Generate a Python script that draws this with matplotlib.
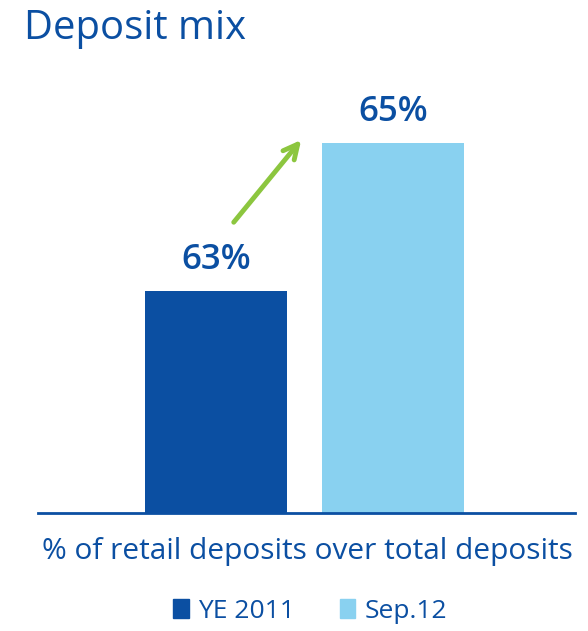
import matplotlib
matplotlib.use("Agg")
import matplotlib.pyplot as plt

# data
periods = ["YE 2011", "Sep.12"]
retail_share = [63, 65]
value_labels = ["63%", "65%"]

dark_blue = "#0b4fa2"
light_blue = "#89d1f0"
green = "#8cc63f"

plt.rcParams["font.family"] = ["Open Sans", "DejaVu Sans"]

fig = plt.figure(figsize=(5.88, 6.31), dpi=100)
W, H = 588, 631
# axes area in pixels: left 38, right 575, baseline 513, top 60
ax = fig.add_axes([38 / W, 1 - 513 / H, (575 - 38) / W, (513 - 60) / H])

y0 = 60
ax.set_ylim(y0, y0 + 453 / 74)
ax.set_xlim(-1.003, 2.023)

bars = ax.bar([0, 1], [v - y0 for v in retail_share], bottom=y0, width=0.8,
              color=[dark_blue, light_blue])

for i, (v, lab) in enumerate(zip(retail_share, value_labels)):
    ax.annotate(lab, (i, v), xytext=(0, 10), textcoords="offset points",
                ha="center", va="bottom", fontsize=25, fontweight="semibold",
                color=dark_blue)

# growth arrow
ax.annotate("", xy=(0.49, retail_share[1] + 0.07), xytext=(0.09, retail_share[0] + 0.9),
            arrowprops=dict(arrowstyle="->", color=green, lw=3.5,
                            mutation_scale=26))

for s in ["top", "left", "right"]:
    ax.spines[s].set_visible(False)
ax.spines["bottom"].set_color(dark_blue)
ax.spines["bottom"].set_linewidth(2)
ax.set_xticks([])
ax.set_yticks([])

fig.text(24 / W, 1 - 29 / H, "Deposit mix", ha="left", va="center",
         fontsize=28.8, color=dark_blue)
fig.text(307 / W, 1 - 551 / H, "% of retail deposits over total deposits",
         ha="center", va="center", fontsize=21.5, color=dark_blue)

handles = [plt.Rectangle((0, 0), 1, 1, color=c) for c in [dark_blue, light_blue]]
leg = fig.legend(handles, periods, loc="center", bbox_to_anchor=(310 / W, 1 - 611 / H),
                 ncol=2, frameon=False, fontsize=19, handlelength=0.6, handleheight=0.7,
                 handletextpad=0.35, columnspacing=1.7)
for t in leg.get_texts():
    t.set_color(dark_blue)

fig.savefig("out.png", dpi=100)
